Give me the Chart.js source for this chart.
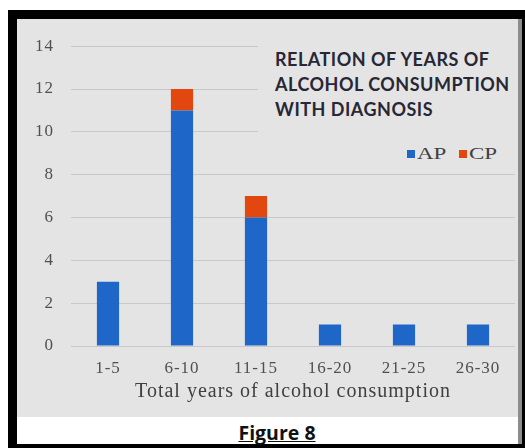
<!DOCTYPE html>
<html>
<head>
<meta charset="utf-8">
<script src="https://cdn.jsdelivr.net/npm/chart.js@4"></script>
<style>
  html, body { margin:0; padding:0; background:#fff; width:525px; height:448px; overflow:hidden; }
  #frame { position:absolute; left:8px; top:10px; width:517px; height:438px; background:#000; }
  #panel { position:absolute; left:17px; top:19px; width:501px; height:398px; background:#e4e4e4; }
  #stripe { position:absolute; left:518px; top:19px; width:4px; height:425px; background:#8c8c8c; }
  #white { position:absolute; left:17px; top:417px; width:501px; height:27px; background:#fff; }
  #cap { position:absolute; left:17px; top:419px; width:520px; text-align:center; font:bold 19.5px "Open Sans", sans-serif; color:#111; text-decoration:underline; line-height:27px; }
  #wrap { position:absolute; left:17px; top:19px; width:501px; height:398px; }
  #box { position:absolute; left:258px; top:38px; width:258px; height:130px; background:#e4e4e4; }
  #title { position:absolute; left:275px; top:47px; font:bold 18px Lato, sans-serif; color:#272735; line-height:25px; letter-spacing:0.5px; white-space:nowrap; }
  .sw { position:absolute; width:8px; height:8px; top:150px; }
  .lt { position:absolute; top:144px; font:17px "Liberation Serif", serif; color:#404040; white-space:nowrap; transform:scaleX(1.35); transform-origin:left center; line-height:20px; }
</style>
</head>
<body>
<div id="frame"></div>
<div id="panel"></div>
<div id="stripe"></div>
<div id="white"></div>
<div id="cap">Figure 8</div>
<div id="wrap"><canvas id="c" width="501" height="398"></canvas></div>
<div id="box"></div>
<div id="title">RELATION OF YEARS OF<br>ALCOHOL CONSUMPTION<br>WITH DIAGNOSIS</div>
<div class="sw" style="left:407px;background:#1f66c9"></div>
<div class="lt" style="left:417px">AP</div>
<div class="sw" style="left:459px;background:#e2470f"></div>
<div class="lt" style="left:469px">CP</div>
<script>
const categories = ["1-5", "6-10", "11-15", "16-20", "21-25", "26-30"];
const apValues = [3, 11, 6, 1, 1, 1];
const cpValues = [0, 1, 1, 0, 0, 0];
const xTitle = "Total years of alcohol consumption";
const yMin = 0, yMax = 14, yStep = 2;

const spacing = {
  id: "spacing",
  beforeDraw(chart) { chart.ctx.letterSpacing = "1px"; }
};

new Chart(document.getElementById("c"), {
  type: "bar",
  plugins: [spacing],
  data: {
    labels: categories,
    datasets: [
      { label: "AP", data: apValues, backgroundColor: "#1f66c9", barPercentage: 0.3, categoryPercentage: 1.0 },
      { label: "CP", data: cpValues, backgroundColor: "#e2470f", barPercentage: 0.3, categoryPercentage: 1.0 }
    ]
  },
  options: {
    responsive: false,
    animation: false,
    events: [],
    layout: { padding: { left: 0, right: 3, top: 26, bottom: 0 } },
    plugins: { legend: { display: false }, title: { display: false }, tooltip: { enabled: false } },
    scales: {
      x: {
        stacked: true,
        grid: { display: false, drawTicks: false },
        border: { display: false },
        ticks: { color: "#505050", font: { family: "Liberation Serif", size: 17 }, padding: 12 },
        title: { display: true, text: xTitle, color: "#404040", font: { family: "Liberation Serif", size: 20 }, padding: { top: 0, bottom: 13 } },
        afterFit: (s) => { s.height = 71; }
      },
      y: {
        stacked: true,
        min: yMin, max: yMax,
        grid: { color: "#c8c8c8", drawTicks: false, lineWidth: 1 },
        border: { display: false },
        ticks: { stepSize: yStep, color: "#505050", font: { family: "Liberation Serif", size: 17 }, padding: 17 },
        afterFit: (s) => { s.width = 54; }
      }
    }
  }
});
</script>
</body>
</html>
